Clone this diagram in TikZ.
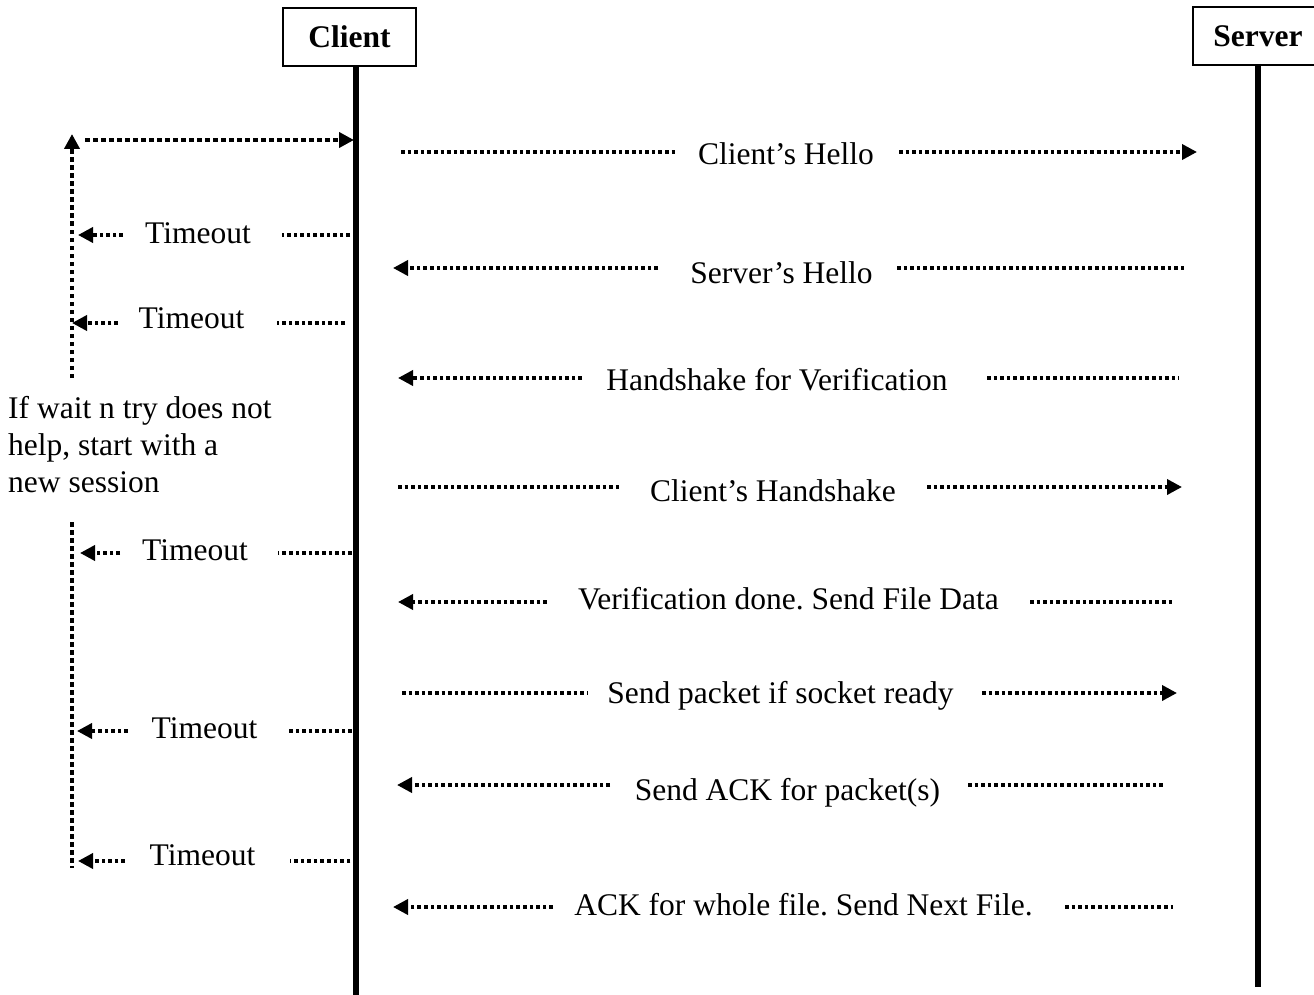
\documentclass[tikz,border=0pt]{standalone}
\usepackage{fontspec}
\setmainfont{Liberation Serif}
\usetikzlibrary{arrows.meta}
\frenchspacing
\begin{document}
\begin{tikzpicture}[x=1pt,y=-1pt,
  every node/.style={font=\fontsize{31.5}{37}\selectfont, inner sep=0pt},
  actor/.style={draw, line width=2pt, font=\fontsize{31.5}{37}\selectfont\bfseries, minimum height=58pt},
  life/.style={line width=5.5pt},
  msg/.style={line width=3.6pt, dash pattern=on 3.6pt off 3pt},
  loopline/.style={line width=4.2pt, dash pattern=on 4.5pt off 3.5pt},
  tip/.style={-{Triangle[length=15pt,width=15pt]}},
  lbl/.style={anchor=base}]
\useasboundingbox (0,0) rectangle (1314,995);
\clip (0,0) rectangle (1314,995);
% actors
\node[actor, minimum width=133pt] (client) at (349.5,37) {Client};
\node[actor, minimum width=130pt] (server) at (1258,36) {Server};
\coordinate (cl1) at (356,66);
\coordinate (cl2) at (356,995);
\coordinate (sv1) at (1258,64);
\coordinate (sv2) at (1258,987);
\draw[life] (cl1) -- (cl2);
\draw[life] (sv1) -- (sv2);

% retry loop on the left
\coordinate (lpa) at (72,378);
\coordinate (lpb) at (72,134);
\coordinate (lpc) at (85,140);
\coordinate (lpd) at (354,140);
\draw[loopline, tip] (lpa) -- (lpb);
\draw[loopline, tip] (lpc) -- (lpd);
\coordinate (lpe) at (72,522);
\coordinate (lpf) at (72,868);
\draw[loopline] (lpe) -- (lpf);
\node[anchor=base west, align=left] (note) at (8,492) {If wait n try does not\\help, start with a\\new session};

% timeouts
\foreach \i/\y/\tx/\bl/\ra/\rb/\la/\lb in {
  1/235/198/243/350/282/123/78,
  2/323/191.5/328/345/277/118/72,
  3/553/195/560/352/278/120/80,
  4/731/204.5/738/352/289/128/77,
  5/861/202.5/865/357/290/125/78}{
  \node[lbl] (to\i) at (\tx,\bl) {Timeout};
  \coordinate (tra\i) at (\ra,\y);
  \coordinate (trb\i) at (\rb,\y);
  \coordinate (tla\i) at (\la,\y);
  \coordinate (tlb\i) at (\lb,\y);
  \draw[msg] (tra\i) -- (trb\i);
  \draw[msg, tip] (tla\i) -- (tlb\i);
}

% messages
\node[lbl] (m1) at (786,165) {Client’s Hello};
\node[lbl] (m2) at (781.5,283) {Server’s Hello};
\node[lbl] (m3) at (777,390) {Handshake for Verification};
\node[lbl] (m4) at (773,501) {Client’s Handshake};
\node[lbl] (m5) at (788.5,609) {Verification done. Send File Data};
\node[lbl] (m6) at (780.5,703) {Send packet if socket ready};
\node[lbl] (m7) at (787.5,800) {Send ACK for packet(s)};
\node[lbl] (m8) at (803.5,915) {ACK for whole file. Send Next File.};

% message segments
\coordinate (a1) at (401,152);  \coordinate (b1) at (675,152);
\coordinate (c1) at (899,152);  \coordinate (d1) at (1197,152);
\draw[msg] (a1) -- (b1); \draw[msg, tip] (c1) -- (d1);

\coordinate (a2) at (658,268);  \coordinate (b2) at (393,268);
\coordinate (c2) at (897,268);  \coordinate (d2) at (1187,268);
\draw[msg, tip] (a2) -- (b2); \draw[msg] (c2) -- (d2);

\coordinate (a3) at (582,378);  \coordinate (b3) at (398,378);
\coordinate (c3) at (987,378);  \coordinate (d3) at (1179,378);
\draw[msg, tip] (a3) -- (b3); \draw[msg] (c3) -- (d3);

\coordinate (a4) at (398,487);  \coordinate (b4) at (620,487);
\coordinate (c4) at (927,487);  \coordinate (d4) at (1182,487);
\draw[msg] (a4) -- (b4); \draw[msg, tip] (c4) -- (d4);

\coordinate (a5) at (547,602);  \coordinate (b5) at (398,602);
\coordinate (c5) at (1030,602); \coordinate (d5) at (1173,602);
\draw[msg, tip] (a5) -- (b5); \draw[msg] (c5) -- (d5);

\coordinate (a6) at (402,693);  \coordinate (b6) at (588,693);
\coordinate (c6) at (982,693);  \coordinate (d6) at (1177,693);
\draw[msg] (a6) -- (b6); \draw[msg, tip] (c6) -- (d6);

\coordinate (a7) at (610,785);  \coordinate (b7) at (397,785);
\coordinate (c7) at (968,785);  \coordinate (d7) at (1163,785);
\draw[msg, tip] (a7) -- (b7); \draw[msg] (c7) -- (d7);

\coordinate (a8) at (553,907);  \coordinate (b8) at (393,907);
\coordinate (c8) at (1065,907); \coordinate (d8) at (1173,907);
\draw[msg, tip] (a8) -- (b8); \draw[msg] (c8) -- (d8);
\end{tikzpicture}
\end{document}
